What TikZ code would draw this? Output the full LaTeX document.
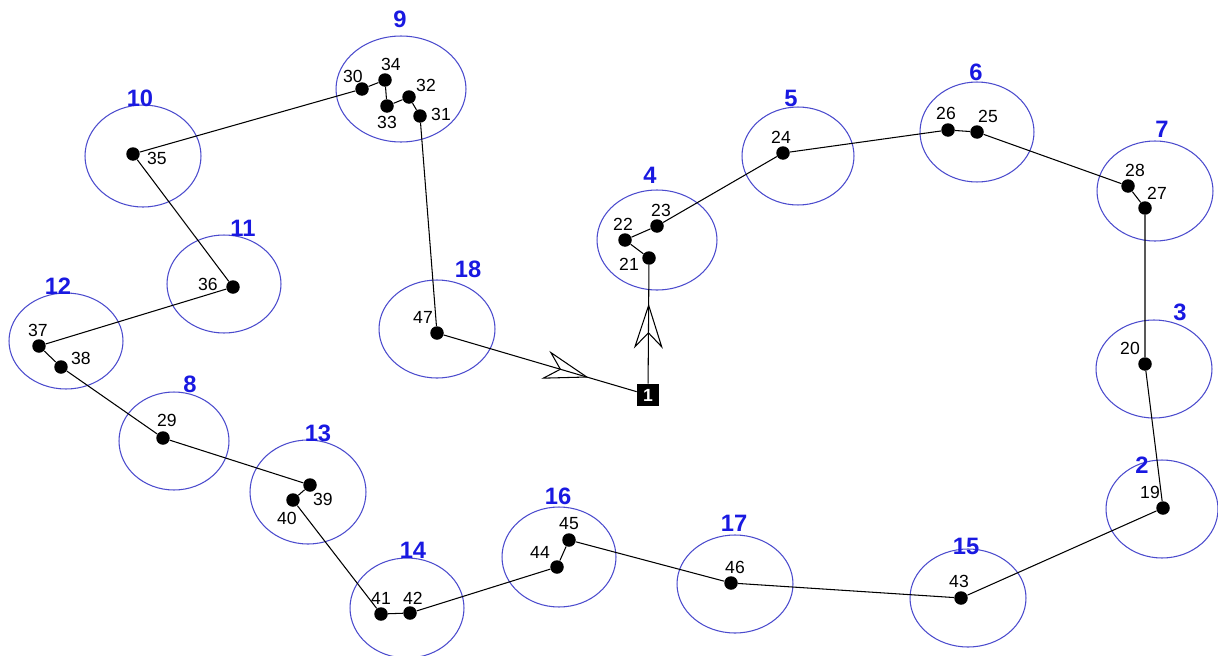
\documentclass[tikz,border=0pt]{standalone}
\usepackage{fontspec}
\setmainfont{Liberation Sans}
\usetikzlibrary{arrows.meta,decorations.markings}
\definecolor{zoneblue}{RGB}{75,75,205}
\definecolor{labblue}{RGB}{25,25,225}

\begin{document}
\begin{tikzpicture}[x=0.02cm, y=-0.02cm,
  zone/.style={draw=zoneblue, line width=0.6pt},
  zlab/.style={text=labblue, font=\fontsize{13.5}{15}\selectfont\bfseries, inner sep=0pt},
  dot/.style={circle, fill=black, inner sep=0pt, minimum size=0.27cm},
  num/.style={font=\fontsize{10}{12}\selectfont, inner sep=0pt},
  start/.style={rectangle, fill=black, text=white, font=\fontsize{10}{12}\selectfont\bfseries, minimum size=0.44cm, inner sep=0pt},
  link/.style={line width=0.6pt, black},
  flow/.style={link, postaction={decorate}, decoration={markings,
      mark=at position #1 with {\arrow{Stealth[open, length=0.9cm, width=0.58cm, inset=0.3cm, line width=0.6pt]}}}}
]
  \useasboundingbox (0,0) rectangle (1218,656);

  % Zonen
  \draw[zone] (401,89)   ellipse [x radius=1.30cm, y radius=1.06cm]; % 9
  \draw[zone] (143,156)  ellipse [x radius=1.16cm, y radius=1.02cm]; % 10
  \draw[zone] (224,284)  ellipse [x radius=1.14cm, y radius=0.98cm]; % 11
  \draw[zone] (66,341)   ellipse [x radius=1.14cm, y radius=0.96cm]; % 12
  \draw[zone] (174,441)  ellipse [x radius=1.10cm, y radius=0.98cm]; % 8
  \draw[zone] (308,492)  ellipse [x radius=1.16cm, y radius=1.04cm]; % 13
  \draw[zone] (407,608)  ellipse [x radius=1.14cm, y radius=1.00cm]; % 14
  \draw[zone] (559,557)  ellipse [x radius=1.14cm, y radius=1.00cm]; % 16
  \draw[zone] (735,584)  ellipse [x radius=1.16cm, y radius=0.98cm]; % 17
  \draw[zone] (968,598)  ellipse [x radius=1.16cm, y radius=0.98cm]; % 15
  \draw[zone] (1162,509) ellipse [x radius=1.12cm, y radius=0.98cm]; % 2
  \draw[zone] (1154,369) ellipse [x radius=1.16cm, y radius=0.98cm]; % 3
  \draw[zone] (1155,191) ellipse [x radius=1.16cm, y radius=1.00cm]; % 7
  \draw[zone] (977,132)  ellipse [x radius=1.14cm, y radius=1.00cm]; % 6
  \draw[zone] (798,156)  ellipse [x radius=1.12cm, y radius=0.98cm]; % 5
  \draw[zone] (657,240)  ellipse [x radius=1.20cm, y radius=1.00cm]; % 4
  \draw[zone] (437,329)  ellipse [x radius=1.16cm, y radius=0.98cm]; % 18

  % Zonennummern
  \node[zlab] (l9)  at (400,19)   {9};
  \node[zlab] (l10) at (140,98)   {10};
  \node[zlab] (l11) at (243,228)  {11};
  \node[zlab] (l12) at (58,286)   {12};
  \node[zlab] (l8)  at (190,384)  {8};
  \node[zlab] (l13) at (318,433)  {13};
  \node[zlab] (l14) at (413,550)  {14};
  \node[zlab] (l16) at (558,496)  {16};
  \node[zlab] (l17) at (734,523)  {17};
  \node[zlab] (l15) at (966,546)  {15};
  \node[zlab] (l2)  at (1142,465) {2};
  \node[zlab] (l3)  at (1180,312) {3};
  \node[zlab] (l7)  at (1162,129) {7};
  \node[zlab] (l6)  at (976,72)   {6};
  \node[zlab] (l5)  at (791,98)   {5};
  \node[zlab] (l4)  at (650,175)  {4};
  \node[zlab] (l18) at (468,269)  {18};

  % Punkte
  \node[start] (n1) at (648,395) {1};
  \foreach \k/\px/\py in {21/649/258, 22/625/240, 23/657/226, 24/783/153,
      26/948/130, 25/977/132, 28/1128/186, 27/1145/208, 20/1145/364,
      19/1163/508, 43/961/598, 46/731/583, 45/569/540, 44/557/567,
      42/410/613, 41/381/614, 40/293/500, 39/310/485, 29/163/438,
      38/61/367, 37/39/346, 36/233/287, 35/133/154, 30/362/89,
      34/385/80, 33/387/106, 32/409/97, 31/420/116, 47/437/333}
    {\node[dot] (d\k) at (\px,\py) {};}

  % Punktnummern
  \node[num] (t30) at (353,76)   {30};
  \node[num] (t34) at (391,64)   {34};
  \node[num] (t33) at (387,122)  {33};
  \node[num] (t32) at (426,85)   {32};
  \node[num] (t31) at (441,114)  {31};
  \node[num] (t35) at (157,158)  {35};
  \node[num] (t36) at (208,284)  {36};
  \node[num] (t37) at (38,330)   {37};
  \node[num] (t38) at (81,358)   {38};
  \node[num] (t29) at (167,420)  {29};
  \node[num] (t39) at (323,499)  {39};
  \node[num] (t40) at (287,518)  {40};
  \node[num] (t41) at (381,598)  {41};
  \node[num] (t42) at (413,598)  {42};
  \node[num] (t44) at (540,552)  {44};
  \node[num] (t45) at (569,524)  {45};
  \node[num] (t46) at (735,567)  {46};
  \node[num] (t43) at (959,581)  {43};
  \node[num] (t19) at (1150,492) {19};
  \node[num] (t20) at (1130,348) {20};
  \node[num] (t27) at (1157,193) {27};
  \node[num] (t28) at (1135,170) {28};
  \node[num] (t26) at (946,113)  {26};
  \node[num] (t25) at (988,116)  {25};
  \node[num] (t24) at (781,137)  {24};
  \node[num] (t23) at (661,210)  {23};
  \node[num] (t22) at (623,224)  {22};
  \node[num] (t21) at (629,264)  {21};
  \node[num] (t47) at (423,317)  {47};

  % Route
  \draw[flow=0.675] (n1) -- (d21);
  \draw[link] (d21) -- (d22) -- (d23) -- (d24) -- (d26) -- (d25) -- (d28)
    -- (d27) -- (d20) -- (d19) -- (d43) -- (d46) -- (d45) -- (d44) -- (d42)
    -- (d41) -- (d40) -- (d39) -- (d29) -- (d38) -- (d37) -- (d36) -- (d35)
    -- (d30) -- (d34) -- (d33) -- (d32) -- (d31) -- (d47);
  \draw[flow=0.75] (d47) -- (n1);
\end{tikzpicture}
\end{document}
